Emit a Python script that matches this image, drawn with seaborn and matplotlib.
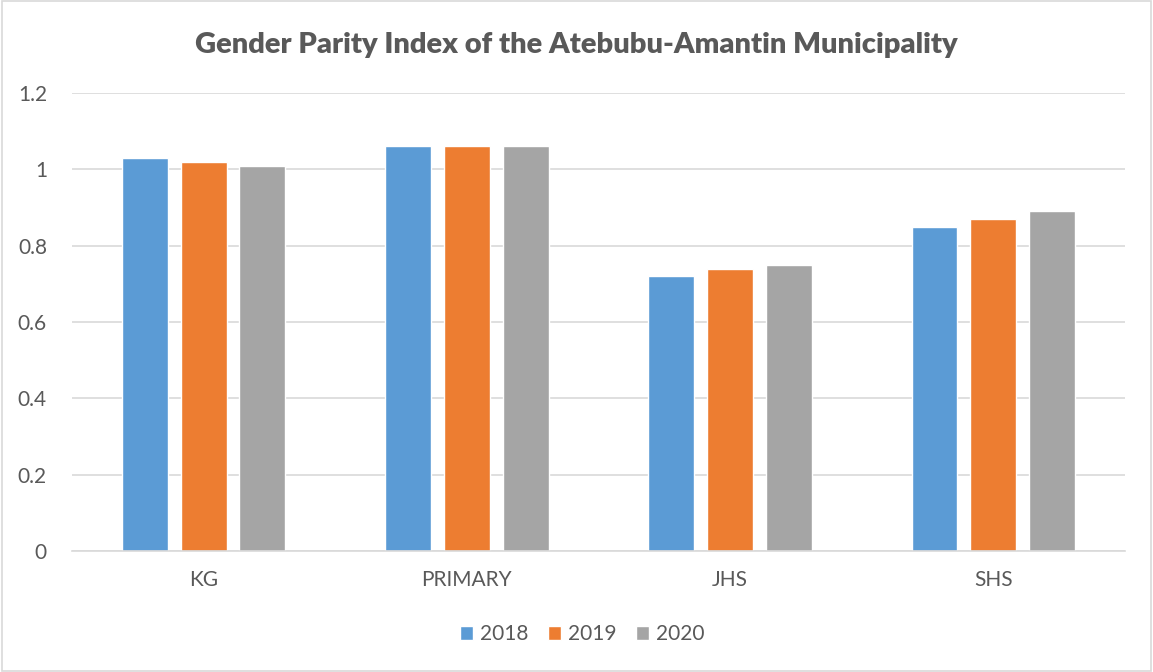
import matplotlib
matplotlib.use("Agg")
import matplotlib.pyplot as plt
import seaborn as sns
import pandas as pd
from matplotlib.patches import Rectangle

categories = ["KG", "PRIMARY", "JHS", "SHS"]
years = ["2018", "2019", "2020"]
values_2018 = [1.03, 1.06, 0.72, 0.85]
values_2019 = [1.02, 1.06, 0.74, 0.87]
values_2020 = [1.01, 1.06, 0.75, 0.89]
yticks = [0, 0.2, 0.4, 0.6, 0.8, 1, 1.2]
ytick_labels = ["0", "0.2", "0.4", "0.6", "0.8", "1", "1.2"]
title = "Gender Parity Index of the Atebubu-Amantin Municipality"

rows = []
for yr, vals in zip(years, [values_2018, values_2019, values_2020]):
    for c, v in zip(categories, vals):
        rows.append({"category": c, "year": yr, "value": v})
df = pd.DataFrame(rows)

sns.set_style("white")
plt.rcParams["font.family"] = ["Lato", "DejaVu Sans"]

colors = ["#5B9BD5", "#ED7D31", "#A5A5A5"]
text_color = "#595959"

fig = plt.figure(figsize=(11.53, 6.72), dpi=100)
ax = fig.add_axes([0.0624, 0.18, 0.9133, 0.6816])

sns.barplot(data=df, x="category", y="value", hue="year", hue_order=years,
            order=categories, palette=colors, width=0.67, gap=0.22,
            saturation=1, ax=ax, legend=True, errorbar=None)

ax.set_ylim(0, 1.2)
ax.set_xlim(-0.5, 3.5)
ax.set_yticks(yticks)
ax.set_yticklabels(ytick_labels)
ax.yaxis.grid(True, color="#D9D9D9", linewidth=1.2)
ax.set_axisbelow(True)
for s in ["top", "right", "left"]:
    ax.spines[s].set_visible(False)
ax.spines["bottom"].set_color("#D9D9D9")
ax.spines["bottom"].set_linewidth(1.2)
ax.tick_params(axis="both", length=0, labelsize=15, colors=text_color)
ax.tick_params(axis="y", pad=18)
ax.tick_params(axis="x", pad=14)
ax.set_xlabel("")
ax.set_ylabel("")

fig.text(0.5, 0.933, title, ha="center", va="center", fontsize=21,
         fontweight="heavy", color=text_color)

handles, labels = ax.get_legend_handles_labels()
ax.legend_.remove()
leg = fig.legend(handles, labels, loc="center", bbox_to_anchor=(0.505, 0.056),
                 ncol=3, frameon=False, fontsize=15, handlelength=0.65,
                 handleheight=0.65, handletextpad=0.35, columnspacing=0.9)
for t in leg.get_texts():
    t.set_color(text_color)

fig.patches.append(Rectangle((0.0015, 0.002), 0.997, 0.996, transform=fig.transFigure,
                             fill=False, edgecolor="#D9D9D9", linewidth=1.2))

fig.savefig("out.png", dpi=100)
